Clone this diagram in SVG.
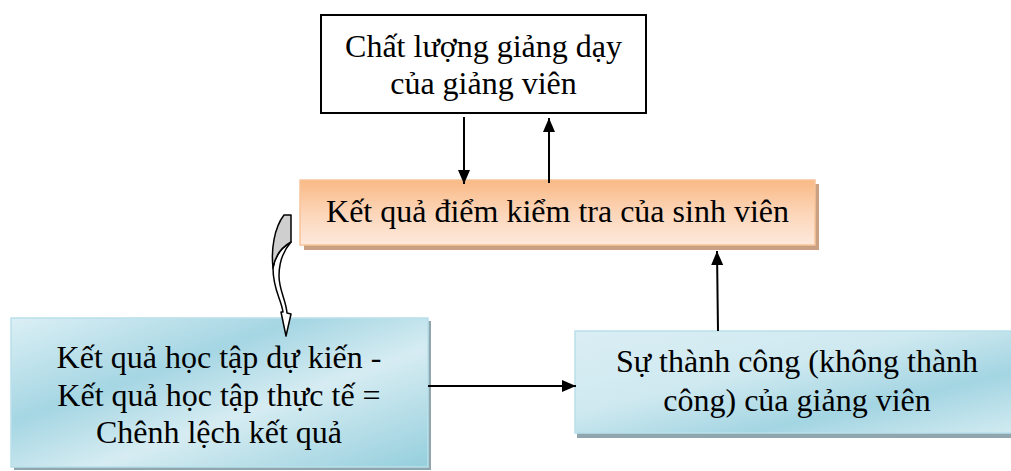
<svg xmlns="http://www.w3.org/2000/svg" width="1011" height="471" viewBox="0 0 1011 471">
<defs>
<style>
text{font-family:"Liberation Serif","Times New Roman",serif;font-size:32px;fill:#000;text-anchor:middle}
.ln{stroke:#000;stroke-width:2;fill:none}
</style>
<marker id="ah" viewBox="0 0 14 12" refX="14" refY="6" markerWidth="14" markerHeight="12" markerUnits="userSpaceOnUse" orient="auto">
<path d="M0,0 L14,6 L0,12 Z" fill="#000"/>
</marker>
<linearGradient id="og" x1="0" y1="0" x2="0" y2="1">
<stop offset="0" stop-color="#f9b984"/>
<stop offset="0.5" stop-color="#fcd5b8"/>
<stop offset="1" stop-color="#fde9dc"/>
</linearGradient>
<linearGradient id="bg" x1="0" y1="0" x2="1" y2="1">
<stop offset="0" stop-color="#dbeff5"/>
<stop offset="0.35" stop-color="#a5d6e3"/>
<stop offset="0.6" stop-color="#d6ecf2"/>
<stop offset="1" stop-color="#95cfdd"/>
</linearGradient>
<linearGradient id="bg2" x1="0" y1="0" x2="1" y2="1">
<stop offset="0" stop-color="#daeef4"/>
<stop offset="0.4" stop-color="#cfe9f0"/>
<stop offset="0.7" stop-color="#a3d5e2"/>
<stop offset="1" stop-color="#d2ebf1"/>
</linearGradient>
</defs>

<g id="node-top">
<rect x="321" y="15" width="325" height="98" fill="#fff" stroke="#000" stroke-width="2"/>
<text x="483.5" y="57">Chất lượng giảng dạy</text>
<text x="483.5" y="94">của giảng viên</text>
</g>

<g id="node-result">
<rect x="304" y="184" width="515" height="66" fill="#c9a081"/>
<rect x="300" y="180" width="515" height="65" fill="url(#og)" stroke="#f8c49b" stroke-width="1.5"/>
<text x="557.5" y="222">Kết quả điểm kiểm tra của sinh viên</text>
</g>

<g id="node-gap">
<rect x="14" y="321" width="417" height="149" fill="#8fa6ae"/>
<rect x="11" y="318" width="417" height="149" fill="url(#bg)" stroke="#b9e0ea" stroke-width="1.5"/>
<text x="219" y="368">Kết quả học tập dự kiến -</text>
<text x="219" y="406">Kết quả học tập thực tế =</text>
<text x="219" y="443">Chênh lệch kết quả</text>
</g>

<g id="node-success">
<rect x="577" y="335" width="440" height="103" fill="#8fa6ae"/>
<rect x="575" y="331" width="440" height="102" fill="url(#bg2)" stroke="#b9e0ea" stroke-width="1.5"/>
<text x="797" y="372">Sự thành công (không thành</text>
<text x="797" y="411">công) của giảng viên</text>
</g>

<g id="connectors">
<line class="ln" x1="464" y1="117" x2="464" y2="184" marker-end="url(#ah)"/>
<line class="ln" x1="549" y1="183" x2="549" y2="118" marker-end="url(#ah)"/>
<line class="ln" x1="718" y1="331" x2="717" y2="251" marker-end="url(#ah)"/>
<line class="ln" x1="428" y1="386" x2="576" y2="386" marker-end="url(#ah)"/>
<g id="curved-arrow" stroke="#000" stroke-width="1.5" stroke-linejoin="round">
<path d="M291,242 C282,247 275,256 273,268 C273,290 281,298 283,312 L281,312 L286,336 L291,314 L287,313 C286,300 279,290 279,276 C279,262 284,250 291,242 Z" fill="#fff"/>
<path d="M284,215 L291,215 L291,242 C282,247 275,256 273,268 C271,250 274,228 284,215 Z" fill="#cfcfcf"/>
</g>
</g>
</svg>
